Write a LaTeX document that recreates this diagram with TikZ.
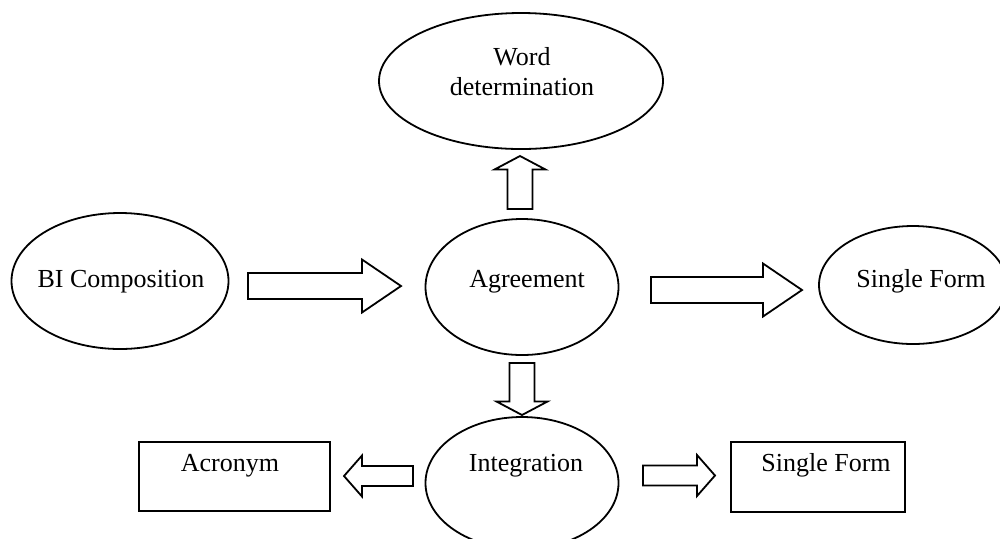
\documentclass[tikz,border=0pt]{standalone}
\usepackage{fontspec}
\setmainfont{Liberation Serif}
\usepackage{tikz}
\usetikzlibrary{shapes,arrows,positioning,calc}

% hollow block arrow: tail, tip, shaft half width, head half width, head length
\newcommand{\blockarrow}[5]{%
  \coordinate (hb) at ($(#2)!#5!(#1)$);
  \draw[fill=white] ($(#1)!#3!90:(#2)$) -- ($(hb)!#3!90:(#2)$) -- ($(hb)!#4!90:(#2)$) -- (#2)
    -- ($(hb)!#4!-90:(#2)$) -- ($(hb)!#3!-90:(#2)$) -- ($(#1)!#3!-90:(#2)$) -- cycle;}

\begin{document}
\begin{tikzpicture}[x=0.5pt, y=-0.5pt, line width=0.9pt,
    bubble/.style={draw, ellipse, inner sep=0pt},
    box/.style={draw, rectangle, inner sep=0pt},
    lbl/.style={font=\fontsize{13}{15}\selectfont, inner sep=0pt, anchor=base, align=center}]
        \fill[white] (0,0) rectangle (1000,538);
        \clip (0,0) rectangle (1000,538);

        % Shapes
        \node[bubble, minimum width=142pt, minimum height=68pt] (word) at (521,81) {};
        \node[bubble, minimum width=108.5pt, minimum height=68pt] (bicomp) at (120,281) {};
        \node[bubble, minimum width=96.5pt, minimum height=68pt] (agree) at (522,287) {};
        \node[bubble, minimum width=94pt, minimum height=59pt] (single) at (913,285) {};
        \node[bubble, minimum width=96.5pt, minimum height=66pt] (integ) at (522,483) {};
        \node[box, minimum width=95.5pt, minimum height=34.5pt] (acronym) at (234.5,476.5) {};
        \node[box, minimum width=87pt, minimum height=35pt] (singlebox) at (818,477) {};

        % Texts (base = baseline of the last line)
        \node[lbl] (wordtext) at (522,95) {Word\\determination};
        \node[lbl] (bicomptext) at (121,287) {BI Composition};
        \node[lbl] (agreetext) at (527,287) {Agreement};
        \node[lbl] (singletext) at (921,287) {Single Form};
        \node[lbl] (integtext) at (526,471) {Integration};
        \node[lbl] (acronymtext) at (230,471) {Acronym};
        \node[lbl] (singleboxtext) at (826,471) {Single Form};

        % Arrow ends
        \coordinate (agree-up) at (520,209);
        \coordinate (word-in) at (520,156);
        \coordinate (bicomp-out) at (248,286);
        \coordinate (agree-in) at (401,286);
        \coordinate (agree-out) at (651,290);
        \coordinate (single-in) at (802,290);
        \coordinate (agree-down) at (522,363);
        \coordinate (integ-in) at (522,415);
        \coordinate (integ-left) at (413,476);
        \coordinate (acronym-in) at (344,476);
        \coordinate (integ-right) at (643,475.5);
        \coordinate (singlebox-in) at (715,475.5);

        % Block arrows
        \blockarrow{agree-up}{word-in}{6.25pt}{12.75pt}{6.75pt}
        \blockarrow{bicomp-out}{agree-in}{6.5pt}{13.25pt}{19.5pt}
        \blockarrow{agree-out}{single-in}{6.5pt}{13.25pt}{19.5pt}
        \blockarrow{agree-down}{integ-in}{6.25pt}{12.75pt}{6.75pt}
        \blockarrow{integ-left}{acronym-in}{5pt}{10.25pt}{9pt}
        \blockarrow{integ-right}{singlebox-in}{5pt}{10.25pt}{9pt}
    \end{tikzpicture}
\end{document}
